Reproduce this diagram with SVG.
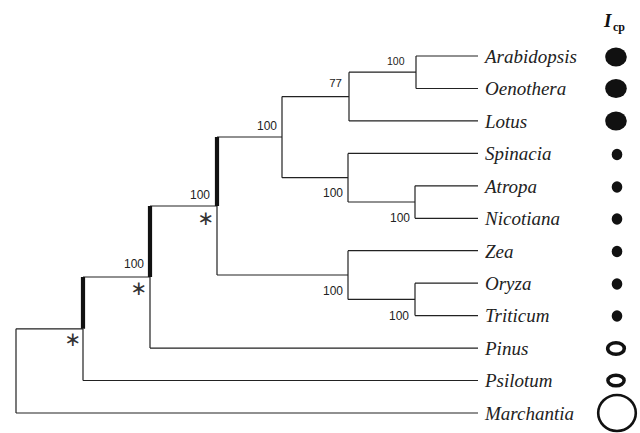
<svg xmlns="http://www.w3.org/2000/svg" width="640" height="433" viewBox="0 0 640 433">
<style>
.ln{fill:none;stroke:#222;stroke-width:1.2}
.tk{fill:none;stroke:#111;stroke-width:4.2}
.tip{font-family:"Liberation Serif",serif;font-style:italic;font-size:19px;fill:#222}
.bs{font-family:"Liberation Sans",sans-serif;font-size:12px;fill:#222;text-anchor:end}
.ast{font-family:"DejaVu Sans",sans-serif;font-size:20px;fill:#333;text-anchor:middle}
.fd{fill:#111}
.od{fill:none;stroke:#111}
</style>
<rect width="640" height="433" fill="#fff"/>
<g id="connectors">
<path class="ln" d="M416 56H478M416 88.5H478M416 56V88.5M349 72.2H416M349 120.9H478M349 72.2V120.9M282 96.6H349"/>
<path class="ln" d="M348 153.4H478M415 185.8H478M415 218.3H478M415 185.8V218.3M348 202H415M348 153.4V202M282 177.7H348M282 96.6V177.7M217 137H282"/>
<path class="ln" d="M348 250.7H478M415 283.2H478M415 315.6H478M415 283.2V315.6M348 299.4H415M348 250.7V299.4M217 275H348M217 206V275M150 206H217"/>
<path class="ln" d="M150 277V348.1M150 348.1H478M83 277H150M83 328.8V380.5M83 380.5H478M16 328.8H83M16 328.8V413M16 413H478"/>
<path class="tk" d="M217 137V206M150 206V277M83 277V328.8"/>
</g>
<g id="support">
<text class="bs" x="404.5" y="65" style="font-size:10.5px">100</text>
<text class="bs" x="342" y="87" style="font-size:11.5px">77</text>
<text class="bs" x="277" y="130">100</text>
<text class="bs" x="343" y="197">100</text>
<text class="bs" x="410" y="222">100</text>
<text class="bs" x="343" y="295">100</text>
<text class="bs" x="409" y="320">100</text>
<text class="bs" x="210" y="199">100</text>
<text class="bs" x="144" y="268">100</text>
<text class="ast" x="206" y="225">∗</text>
<text class="ast" x="139" y="295">∗</text>
<text class="ast" x="73" y="346">∗</text>
</g>
<g id="header"><text x="604" y="27" style="font-family:'Liberation Serif',serif;font-style:italic;font-weight:bold;font-size:19px;fill:#111">I</text><text x="613" y="30.5" style="font-family:'Liberation Serif',serif;font-weight:bold;font-size:12px;fill:#111">cp</text></g>
<g id="Arabidopsis"><text class="tip" x="485" y="62.5">Arabidopsis</text><ellipse class="fd" cx="616" cy="57" rx="10.8" ry="9.5"/></g>
<g id="Oenothera"><text class="tip" x="485" y="95">Oenothera</text><ellipse class="fd" cx="616" cy="88.5" rx="10.8" ry="9.5"/></g>
<g id="Lotus"><text class="tip" x="485" y="127.5">Lotus</text><ellipse class="fd" cx="616" cy="121" rx="10.8" ry="9.5"/></g>
<g id="Spinacia"><text class="tip" x="485" y="160">Spinacia</text><ellipse class="fd" cx="617" cy="154.5" rx="5.3" ry="5.8"/></g>
<g id="Atropa"><text class="tip" x="485" y="192.5">Atropa</text><ellipse class="fd" cx="617" cy="187" rx="5.3" ry="5.8"/></g>
<g id="Nicotiana"><text class="tip" x="485" y="225">Nicotiana</text><ellipse class="fd" cx="617" cy="219" rx="5.3" ry="5.8"/></g>
<g id="Zea"><text class="tip" x="485" y="257.5">Zea</text><ellipse class="fd" cx="617" cy="251.5" rx="5.3" ry="5.8"/></g>
<g id="Oryza"><text class="tip" x="485" y="290">Oryza</text><ellipse class="fd" cx="617" cy="284" rx="5.3" ry="5.8"/></g>
<g id="Triticum"><text class="tip" x="485" y="322">Triticum</text><ellipse class="fd" cx="617" cy="316" rx="5.3" ry="5.8"/></g>
<g id="Pinus"><text class="tip" x="485" y="354.5">Pinus</text><ellipse class="od" cx="616" cy="348.5" rx="8.3" ry="5.8" stroke-width="3.6"/></g>
<g id="Psilotum"><text class="tip" x="485" y="387">Psilotum</text><ellipse class="od" cx="616" cy="380.5" rx="8.1" ry="5.3" stroke-width="3.5"/></g>
<g id="Marchantia"><text class="tip" x="485" y="419.5">Marchantia</text><ellipse class="od" cx="617" cy="413" rx="18.8" ry="18" stroke-width="2.6"/></g>
</svg>
